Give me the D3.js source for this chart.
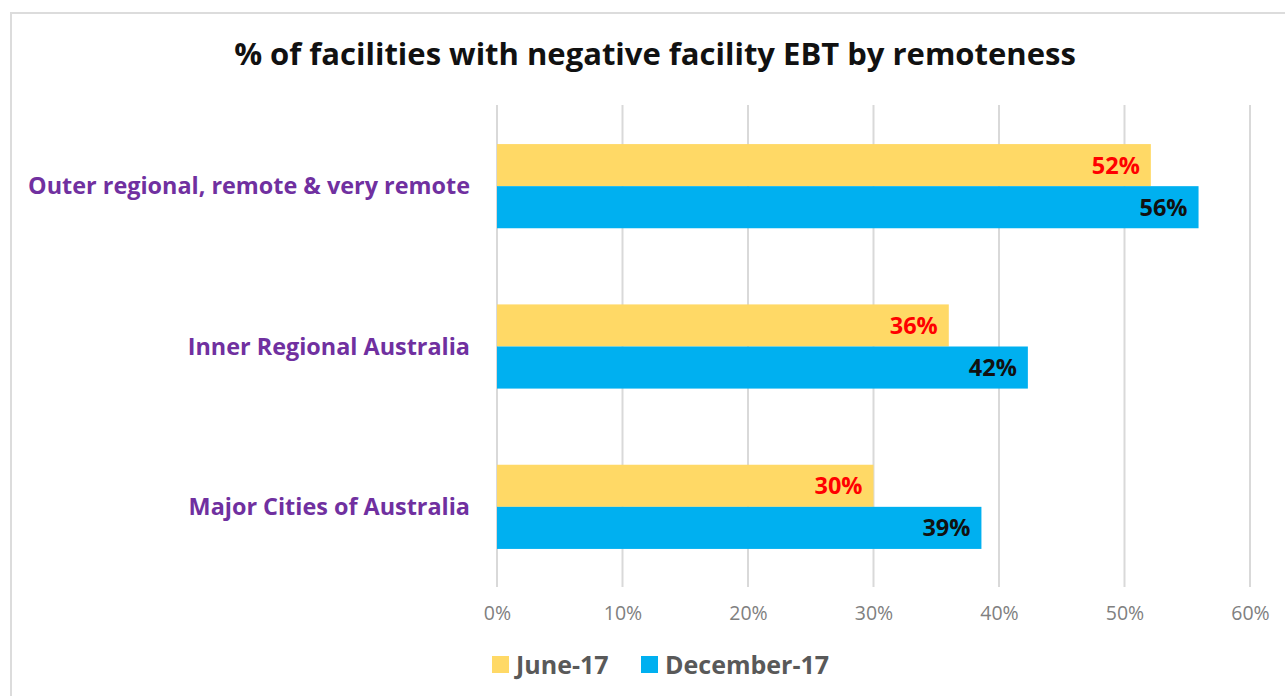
<!DOCTYPE html>
<html>
<head>
<meta charset="utf-8">
<script src="https://cdn.jsdelivr.net/npm/d3@7"></script>
<style>
  body { margin: 0; background: #fff; }
  svg { display: block; font-family: "Open Sans", Lato, sans-serif; }
</style>
</head>
<body>
<div id="chart-area"></div>
<script>
// chart data
const categories = ['Outer regional, remote & very remote', 'Inner Regional Australia', 'Major Cities of Australia'];
const seriesNames = ['June-17', 'December-17'];
const june17 = [52.1, 36.0, 30.0];
const dec17 = [55.9, 42.3, 38.6];
const ticks = [0, 10, 20, 30, 40, 50, 60];

const colors = ['#FFD966', '#00B0F0'];
const labelColors = ['#FF0000', '#111111'];

const width = 1285, height = 696;
const margin = { top: 106, right: 35, bottom: 109, left: 497 };
const plotW = width - margin.left - margin.right;
const plotH = height - margin.top - margin.bottom;

const svg = d3.select('#chart-area')
	.append('svg')
		.attr('width', width)
		.attr('height', height);

// outer frame
svg.append('rect')
	.attr('x', 11)
	.attr('y', 13)
	.attr('width', width + 20)
	.attr('height', height + 20)
	.attr('fill', 'none')
	.attr('stroke', '#dcdcdc')
	.attr('stroke-width', 2);

svg.append('text')
	.attr('x', 655)
	.attr('y', 65)
	.attr('text-anchor', 'middle')
	.attr('font-size', 31)
	.attr('font-weight', 'bold')
	.attr('fill', '#111')
	.text('% of facilities with negative facility EBT by remoteness');

const g = svg.append('g')
	.attr('transform', `translate(${margin.left},${margin.top})`);

// SCALES
const xScale = d3.scaleLinear()
	.domain([0, 60])
	.range([0, plotW]);

const yScale = d3.scaleBand()
	.domain(categories)
	.range([0, plotH])
	.paddingInner(0.475)
	.paddingOuter(0.2375);

const ySub = d3.scaleBand()
	.domain(seriesNames)
	.range([0, yScale.bandwidth()]);

// gridlines
g.selectAll('.grid')
	.data(ticks)
	.enter().append('line')
		.attr('class', 'grid')
		.attr('x1', d => xScale(d))
		.attr('x2', d => xScale(d))
		.attr('y1', -1)
		.attr('y2', plotH)
		.attr('stroke', '#d9d9d9')
		.attr('stroke-width', 2);

// x axis labels
const xAxisCall = d3.axisBottom(xScale)
	.tickValues(ticks)
	.tickSize(0)
	.tickFormat(d => d + '%');

const xAxisGroup = g.append('g')
	.attr('transform', `translate(0,${plotH})`)
	.call(xAxisCall);
xAxisGroup.select('.domain').remove();
xAxisGroup.selectAll('text')
	.attr('y', 19)
	.attr('font-size', 19.5)
	.attr('font-family', '"Open Sans", sans-serif')
	.attr('fill', '#808080');

// category labels
g.selectAll('.cat')
	.data(categories)
	.enter().append('text')
		.attr('class', 'cat')
		.attr('x', -27)
		.attr('y', d => yScale(d) + yScale.bandwidth() / 2)
		.attr('dy', '0.35em')
		.attr('text-anchor', 'end')
		.attr('font-size', 23.4)
		.attr('font-weight', 'bold')
		.attr('fill', '#7030A0')
		.text(d => d);

// bars
const rows = [];
categories.forEach((c, i) => {
	rows.push({ cat: c, series: seriesNames[0], value: june17[i], idx: 0 });
	rows.push({ cat: c, series: seriesNames[1], value: dec17[i], idx: 1 });
});

g.selectAll('.bar')
	.data(rows)
	.enter().append('rect')
		.attr('class', 'bar')
		.attr('x', 0)
		.attr('y', d => yScale(d.cat) + ySub(d.series))
		.attr('width', d => xScale(d.value))
		.attr('height', ySub.bandwidth())
		.attr('fill', d => colors[d.idx]);

g.selectAll('.val')
	.data(rows)
	.enter().append('text')
		.attr('class', 'val')
		.attr('x', d => xScale(d.value) - 11)
		.attr('y', d => yScale(d.cat) + ySub(d.series) + ySub.bandwidth() / 2)
		.attr('dy', '0.36em')
		.attr('text-anchor', 'end')
		.attr('font-size', 23.5)
		.attr('font-weight', 'bold')
		.attr('fill', d => labelColors[d.idx])
		.text(d => Math.round(d.value) + '%');

// legend
const legend = svg.append('g')
	.attr('transform', 'translate(492,656)');
const legendX = [0, 149];
seriesNames.forEach((s, i) => {
	const row = legend.append('g')
		.attr('transform', `translate(${legendX[i]},0)`);
	row.append('rect')
		.attr('width', 17)
		.attr('height', 17)
		.attr('fill', colors[i]);
	row.append('text')
		.attr('x', 24)
		.attr('y', 9)
		.attr('dy', '0.36em')
		.attr('font-size', 25)
		.attr('font-weight', 'bold')
		.attr('fill', '#595959')
		.text(s);
});
</script>
</body>
</html>
